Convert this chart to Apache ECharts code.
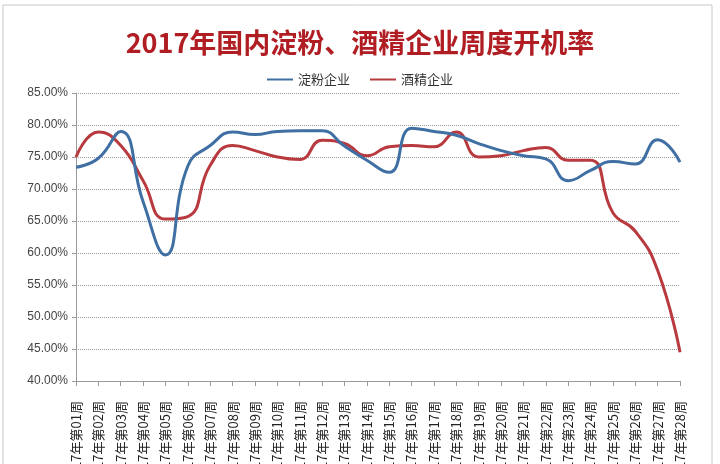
<!DOCTYPE html>
<html>
<head>
<meta charset="utf-8">
<script src="https://cdn.jsdelivr.net/npm/echarts@6/dist/echarts.min.js"></script>
<style>
html,body{margin:0;padding:0;background:#fff;}
#chart{width:720px;height:464px;}
</style>
</head>
<body>
<div id="chart"></div>
<script>
const weeks = ['2017年第01周','2017年第02周','2017年第03周','2017年第04周','2017年第05周','2017年第06周','2017年第07周','2017年第08周','2017年第09周','2017年第10周','2017年第11周','2017年第12周','2017年第13周','2017年第14周','2017年第15周','2017年第16周','2017年第17周','2017年第18周','2017年第19周','2017年第20周','2017年第21周','2017年第22周','2017年第23周','2017年第24周','2017年第25周','2017年第26周','2017年第27周','2017年第28周'];
const starch = [73.4,74.8,79.0,68.0,59.7,73.6,76.8,78.9,78.5,79.0,79.1,79.1,76.7,74.5,72.6,79.5,79.0,78.4,77.1,76.0,75.2,74.7,71.3,72.9,74.3,73.9,77.7,74.2];
const alcohol = [75.0,78.9,76.8,71.3,65.3,65.7,73.7,76.8,76.0,75.0,74.6,77.6,77.1,75.2,76.6,76.8,76.6,78.9,75.0,75.2,76.0,76.5,74.5,74.5,66.3,63.4,57.3,44.5];
const seriesNames = ['淀粉企业','酒精企业'];
const titleText = '2017年国内淀粉、酒精企业周度开机率';

const chart = echarts.init(document.getElementById('chart'));
chart.setOption({
  backgroundColor:'#fff',
  animation:false,
  graphic:[{type:'rect',shape:{x:3,y:5,width:709,height:470},style:{fill:'none',stroke:'#c8c8c8',lineWidth:1},silent:true}],
  title:{text:titleText,left:'center',top:24,
    textStyle:{color:'#b01e23',fontSize:27,fontWeight:'bold',fontFamily:'Noto Sans CJK SC'}},
  legend:{data:seriesNames,top:68,left:'center',itemGap:20,icon:'rect',itemWidth:26,itemHeight:2,
    textStyle:{color:'#333',fontSize:13,fontFamily:'Noto Sans CJK SC'}},
  grid:{left:76,right:40,top:93,bottom:83,containLabel:false,outerBoundsMode:'none'},
  xAxis:{type:'category',data:weeks,boundaryGap:false,
    axisLine:{lineStyle:{color:'#999',width:1}},
    axisTick:{show:true,length:5,inside:false,lineStyle:{color:'#999'}},
    axisLabel:{rotate:90,interval:0,margin:20,color:'#222',fontSize:13,fontFamily:'Noto Sans CJK SC'},
    splitLine:{show:false}},
  yAxis:{type:'value',min:40,max:85,interval:5,
    axisLine:{show:true,lineStyle:{color:'#999',width:1}},
    axisTick:{show:true,length:4,lineStyle:{color:'#999'}},
    axisLabel:{formatter:v=>v.toFixed(2)+'%',color:'#444',fontSize:12,margin:8,fontFamily:'Liberation Sans'},
    splitLine:{show:true,lineStyle:{type:'dotted',color:'#999',width:1}}},
  series:[
    {name:seriesNames[0],type:'line',data:starch,smooth:0.5,showSymbol:false,symbol:'none',
      lineStyle:{color:'#3f6fa3',width:3},itemStyle:{color:'#3f6fa3'},z:3},
    {name:seriesNames[1],type:'line',data:alcohol,smooth:0.5,showSymbol:false,symbol:'none',
      lineStyle:{color:'#b83a3f',width:3},itemStyle:{color:'#b83a3f'},z:2}
  ]
});
</script>
</body>
</html>
